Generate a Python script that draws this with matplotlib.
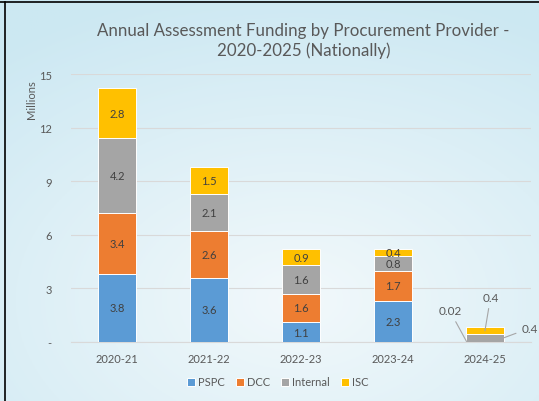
import numpy as np
import matplotlib.pyplot as plt
from matplotlib.lines import Line2D

years = ['2020-21', '2021-22', '2022-23', '2023-24', '2024-25']
pspc = [3.8, 3.6, 1.1, 2.3, 0.02]
dcc = [3.4, 2.6, 1.6, 1.7, 0.0]
internal = [4.2, 2.1, 1.6, 0.8, 0.4]
isc = [2.8, 1.5, 0.9, 0.4, 0.4]
series = [('PSPC', pspc, '#5B9BD5'), ('DCC', dcc, '#ED7D31'),
          ('Internal', internal, '#A5A5A5'), ('ISC', isc, '#FFC000')]

plt.rcParams['font.family'] = ['Lato', 'DejaVu Sans']
txt = '#595959'

fig = plt.figure(figsize=(5.39, 4.02), dpi=100)

# slide-like light blue background
bg = fig.add_axes([0, 0, 1, 1], zorder=-10)
yy, xx = np.mgrid[0:1:200j, 0:1:200j]
d = np.clip(np.sqrt(((xx - 0.55) / 0.9) ** 2 + ((yy - 0.75) / 0.8) ** 2), 0, 1)
top = np.array([0.80, 0.91, 0.95])
mid = np.array([0.95, 0.975, 0.985])
img = mid[None, None, :] * (1 - d[..., None]) + top[None, None, :] * d[..., None]
bg.imshow(img, aspect='auto', extent=[0, 1, 0, 1], origin='upper')
bg.axis('off')
fig.add_artist(Line2D([0, 1], [1 - 3 / 402, 1 - 3 / 402], color='black', lw=1.2, transform=fig.transFigure))
fig.add_artist(Line2D([5 / 539, 5 / 539], [0, 1 - 3 / 402], color='black', lw=1.2, transform=fig.transFigure))

ax = fig.add_axes([0.132, 0.147, 0.853, 0.666])
ax.patch.set_alpha(0)
x = np.arange(len(years))
bottom = np.zeros(len(years))
for name, vals, col in series:
    vals = np.array(vals)
    bars = ax.bar(x, vals, 0.41, bottom=bottom, color=col, label=name,
                  edgecolor='white', linewidth=0.7, zorder=3)
    for i, v in enumerate(vals):
        if i < 4 and v > 0:
            ax.text(x[i], bottom[i] + v / 2, f'{v:g}', ha='center', va='center',
                    fontsize=8, color='#404040', zorder=4)
    bottom += vals

# leader-line labels for the last year
i = 4
lp = dict(arrowprops=dict(arrowstyle='-', color='#A6A6A6', lw=0.8, shrinkA=2, shrinkB=0),
          fontsize=8.5, color=txt)
ax.annotate(f'{pspc[i]:g}', xy=(x[i] - 0.2, pspc[i]), xytext=(-12, 22),
            textcoords='offset points', ha='center', va='center', **lp)
b = pspc[i] + dcc[i]
ax.annotate(f'{internal[i]:g}', xy=(x[i] + 0.2, b + internal[i] / 2), xytext=(13, 7),
            textcoords='offset points', ha='left', va='center', **lp)
b += internal[i]
ax.annotate(f'{isc[i]:g}', xy=(x[i], b + isc[i] / 2), xytext=(4, 24),
            textcoords='offset points', ha='center', va='center', **lp)

ax.set_ylim(0, 15)
ax.set_xlim(-0.5, 4.5)
ax.set_yticks([0, 3, 6, 9, 12, 15])
ax.set_yticklabels(['-', '3', '6', '9', '12', '15'])
ax.set_xticks(x)
ax.set_xticklabels(years)
ax.tick_params(length=0, labelsize=8, colors=txt, pad=8)
ax.tick_params(axis='y', pad=14)
ax.grid(axis='y', color='#D9D9D9', lw=0.8, zorder=0)
for s in ['top', 'right', 'left']:
    ax.spines[s].set_visible(False)
ax.spines['bottom'].set_color('#D9D9D9')
fig.text(32 / 539, 1 - 100 / 402, 'Millions', rotation=90, ha='center', va='center', fontsize=8, color=txt)

fig.text(0.563, 1 - 31 / 402, 'Annual Assessment Funding by Procurement Provider -',
         ha='center', va='center', fontsize=12.2, color=txt)
fig.text(0.563, 1 - 51 / 402, '2020-2025 (Nationally)', ha='center', va='center', fontsize=12.2, color=txt)

ax.legend(loc='center', bbox_to_anchor=(278 / 539, 1 - 383 / 402), bbox_transform=fig.transFigure,
          ncol=4, frameon=False, fontsize=8, labelcolor=txt, handlelength=0.7, handleheight=0.7,
          handletextpad=0.3, columnspacing=1.0)

fig.savefig('out.png', dpi=100)
